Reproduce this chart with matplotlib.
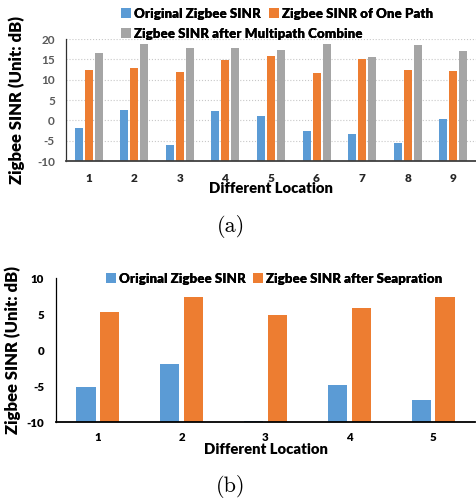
import numpy as np
import matplotlib
matplotlib.use("Agg")
import matplotlib.pyplot as plt

# datos de la figura (a): 9 lugares, tres series
locations_a = ["1", "2", "3", "4", "5", "6", "7", "8", "9"]
original_a = [-2.0, 2.5, -6.1, 2.3, 1.0, -2.5, -3.4, -5.5, 0.3]
one_path_a = [12.3, 12.8, 11.8, 14.8, 15.8, 11.7, 15.2, 12.5, 12.2]
combine_a = [16.6, 18.8, 17.7, 17.8, 17.2, 18.7, 15.6, 18.6, 17.1]
ticks_a = [-10, -5, 0, 5, 10, 15, 20]

# datos de la figura (b): 5 lugares, dos series
locations_b = ["1", "2", "3", "4", "5"]
original_b = [-5.1, -2.0, -9.8, -4.9, -6.9]
separated_b = [5.3, 7.3, 4.8, 5.9, 7.4]
ticks_b = [-10, -5, 0, 5, 10]

BLUE = "#5B9BD5"
ORANGE = "#ED7D31"
GRAY = "#A5A5A5"

plt.rcParams["font.family"] = ["Lato", "DejaVu Sans"]
plt.rcParams["font.weight"] = "bold"
plt.rcParams["axes.unicode_minus"] = False

fig = plt.figure(figsize=(4.76, 4.98), dpi=100)
W, H = 476, 498


def fx(px):
    return px / W


def fy(py):
    return 1 - py / H


def style_axes(ax, xpad, ypad, tick_color):
    for s in ["top", "right"]:
        ax.spines[s].set_visible(False)
    ax.spines["left"].set_linewidth(0.9)
    ax.spines["bottom"].set_linewidth(1.3)
    ax.tick_params(length=0, colors=tick_color)
    ax.tick_params(axis="x", pad=xpad)
    ax.tick_params(axis="y", pad=ypad)


def square_legend(handle, label, xpx, ypx):
    lg = fig.legend([handle], [label], loc="center left",
                    bbox_to_anchor=(fx(xpx), fy(ypx)), frameon=False,
                    handlelength=0.75, handleheight=0.75, handletextpad=0.25,
                    borderpad=0, borderaxespad=0,
                    prop={"weight": "heavy", "size": 9.6})
    fig.add_artist(lg)


# ---- (a) ----
ax1 = fig.add_axes([fx(66), fy(161), fx(410), 122 / H])
x = np.arange(len(locations_a))
w = 0.176
d = 0.22
b1 = ax1.bar(x - d, np.array(original_a) + 10, w, bottom=-10, color=BLUE)
b2 = ax1.bar(x, np.array(one_path_a) + 10, w, bottom=-10, color=ORANGE)
b3 = ax1.bar(x + d, np.array(combine_a) + 10, w, bottom=-10, color=GRAY)
ax1.set_xlim(-0.5, len(locations_a) - 0.5)
ax1.set_ylim(-10, 20)
ax1.set_yticks(ticks_a, [str(t) for t in ticks_a], fontsize=8.5, fontweight="bold")
ax1.set_xticks(x, locations_a, fontsize=8.5, fontweight="heavy", color="#262626")
style_axes(ax1, 8.5, 8, "#595959")
ax1.tick_params(axis="x", colors="#262626")
ax1.spines["left"].set_color("#303030")
ax1.spines["bottom"].set_color("#404040")
ax1.yaxis.grid(True, linestyle=":", color="#C8C8C8", linewidth=0.8)
ax1.set_axisbelow(True)
ax1.set_ylabel("Zigbee SINR (Unit: dB)", fontsize=12, fontweight="heavy", color="black", labelpad=9)
ax1.set_xlabel("Different Location", fontsize=10.7, fontweight="heavy", color="black", labelpad=-1)
square_legend(b1, "Original Zigbee SINR", 121, 14)
square_legend(b2, "Zigbee SINR of One Path", 269, 14)
square_legend(b3, "Zigbee SINR after Multipath Combine", 121, 34)
fig.text(fx(231), fy(226), "(a)", family="cmr10", fontsize=16, ha="center", va="center")

# ---- (b) ----
ax2 = fig.add_axes([fx(56), fy(422), fx(419), 144 / H])
x2 = np.arange(len(locations_b))
w2 = 0.227
d2 = 0.142
c1 = ax2.bar(x2 - d2, np.array(original_b) + 10, w2, bottom=-10, color=BLUE)
c2 = ax2.bar(x2 + d2, np.array(separated_b) + 10, w2, bottom=-10, color=ORANGE)
ax2.set_xlim(-0.5, len(locations_b) - 0.5)
ax2.set_ylim(-10, 10)
ax2.set_yticks(ticks_b, [str(t) for t in ticks_b], fontsize=8.3, fontweight="heavy")
ax2.set_xticks(x2, locations_b, fontsize=8.3, fontweight="heavy")
style_axes(ax2, 7.5, 8.5, "black")
ax2.spines["left"].set_color("black")
ax2.spines["bottom"].set_color("black")
ax2.set_ylabel("Zigbee SINR (Unit: dB)", fontsize=12, fontweight="heavy", color="black", labelpad=4)
ax2.set_xlabel("Different Location", fontsize=10.7, fontweight="heavy", color="black", labelpad=0)
square_legend(c1, "Original Zigbee SINR", 106, 279)
square_legend(c2, "Zigbee SINR after Seapration", 253, 279)
fig.text(fx(231), fy(486), "(b)", family="cmr10", fontsize=16, ha="center", va="center")

fig.savefig("out.png", dpi=100)
